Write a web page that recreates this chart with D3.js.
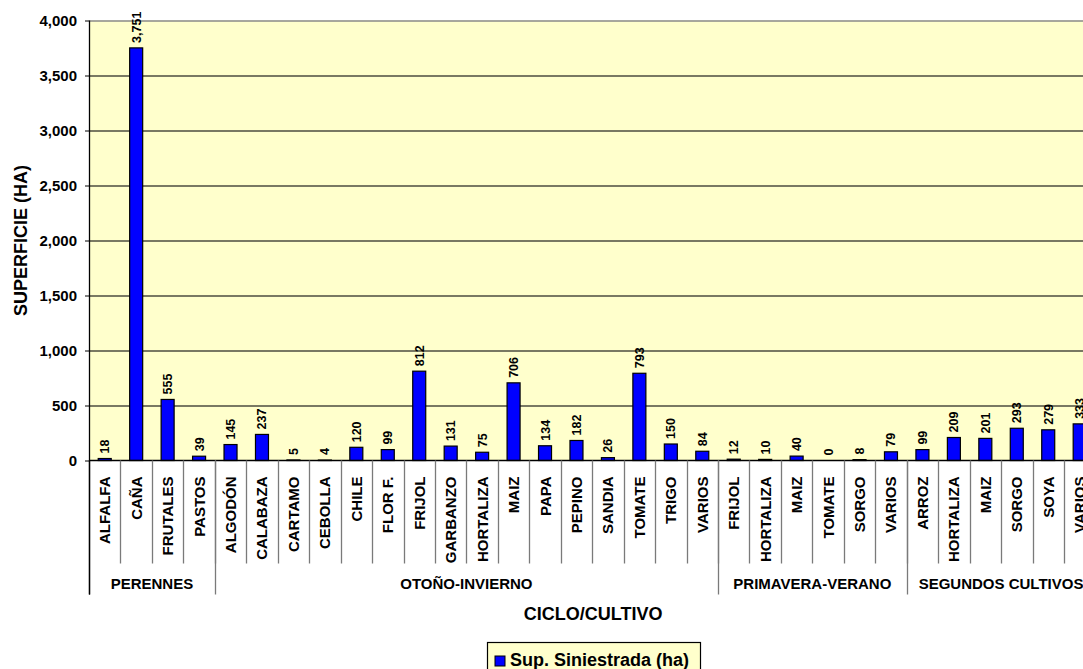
<!DOCTYPE html>
<html>
<head>
<meta charset="utf-8">
<script src="https://cdn.jsdelivr.net/npm/d3@7"></script>
<style>
  body { margin: 0; background: #fff; overflow: hidden; }
  text { font-family: Arial, "Liberation Sans", sans-serif; font-weight: bold; fill: #000; }
</style>
</head>
<body>
<script>
// Data
var groups = ["PERENNES", "OTOÑO-INVIERNO", "PRIMAVERA-VERANO", "SEGUNDOS CULTIVOS"];
var groupCrops = [
  ["ALFALFA", "CAÑA", "FRUTALES", "PASTOS"],
  ["ALGODÓN", "CALABAZA", "CARTAMO", "CEBOLLA", "CHILE", "FLOR F.", "FRIJOL", "GARBANZO",
   "HORTALIZA", "MAIZ", "PAPA", "PEPINO", "SANDIA", "TOMATE", "TRIGO", "VARIOS"],
  ["FRIJOL", "HORTALIZA", "MAIZ", "TOMATE", "SORGO", "VARIOS"],
  ["ARROZ", "HORTALIZA", "MAIZ", "SORGO", "SOYA", "VARIOS"]
];
var groupValues = [
  [18, 3751, 555, 39],
  [145, 237, 5, 4, 120, 99, 812, 131, 75, 706, 134, 182, 26, 793, 150, 84],
  [12, 10, 40, 0, 8, 79],
  [99, 209, 201, 293, 279, 333]
];
var yTicks = [0, 500, 1000, 1500, 2000, 2500, 3000, 3500, 4000];
var seriesName = "Sup. Siniestrada (ha)";

// flatten into rows
var rows = [];
groups.forEach(function(g, gi) {
  groupCrops[gi].forEach(function(c, ci) {
    rows.push({ key: gi + "-" + ci, group: g, crop: c, value: groupValues[gi][ci] });
  });
});

var svgWidth = 1083, svgHeight = 669;
var margin = { top: 20.5, left: 89 };
var width = 1006.4, height = 440;

var svg = d3.select("body").append("svg")
  .attr("width", svgWidth)
  .attr("height", svgHeight);

var chartGroup = svg.append("g")
  .attr("transform", `translate(${margin.left}, ${margin.top})`);

var xScale = d3.scaleBand()
  .domain(rows.map(function(d) { return d.key; }))
  .range([0, width])
  .paddingInner(0).paddingOuter(0);

var yScale = d3.scaleLinear().domain([0, 4000]).range([height, 0]);

// plot background
chartGroup.append("rect")
  .attr("x", 0).attr("y", 0)
  .attr("width", width).attr("height", height)
  .attr("fill", "#ffffcc");

// grid lines
chartGroup.selectAll(".grid")
  .data(yTicks.slice(1))
  .enter().append("line")
  .attr("x1", 0).attr("x2", width)
  .attr("y1", function(d) { return Math.round(yScale(d)) + 0.5; })
  .attr("y2", function(d) { return Math.round(yScale(d)) + 0.5; })
  .attr("stroke", function(d) { return d === 4000 ? "#8a8a8a" : "#4d4d40"; })
  .attr("stroke-width", 1.3);

// y axis
var yAxis = d3.axisLeft(yScale).tickValues(yTicks).tickSize(4).tickFormat(d3.format(","));
var yG = chartGroup.append("g").call(yAxis);
yG.select(".domain").remove();
yG.selectAll(".tick line").attr("stroke", "#000");
yG.selectAll(".tick text").attr("font-size", 15).attr("x", -12)
  .style("font-family", "Arial, 'Liberation Sans', sans-serif").style("font-weight", "bold");

// bars
var barW = 13;
chartGroup.selectAll(".bar")
  .data(rows)
  .enter().append("rect")
  .attr("class", "bar")
  .attr("x", function(d) { return xScale(d.key) + (xScale.bandwidth() - barW) / 2; })
  .attr("y", function(d) { return yScale(d.value); })
  .attr("width", barW)
  .attr("height", function(d) { return height - yScale(d.value); })
  .attr("fill", "#0000ff")
  .attr("stroke", "#000")
  .attr("stroke-width", 1.2);

// value labels
chartGroup.selectAll(".val")
  .data(rows)
  .enter().append("text")
  .attr("class", "val")
  .attr("transform", function(d) {
    return "translate(" + (xScale(d.key) + xScale.bandwidth() / 2 + 4.5) + "," + (yScale(d.value) - 5) + ") rotate(-90)";
  })
  .attr("font-size", 12.5)
  .text(function(d) { return d3.format(",")(d.value); });

// x axis line
chartGroup.append("line")
  .attr("x1", 0).attr("x2", width)
  .attr("y1", height).attr("y2", height)
  .attr("stroke", "#000").attr("stroke-width", 1.3);

// category separators
var bounds = rows.map(function(d) { return xScale(d.key); });
chartGroup.selectAll(".sep")
  .data(bounds.slice(1))
  .enter().append("line")
  .attr("x1", function(d) { return Math.round(d) + 0.5; })
  .attr("x2", function(d) { return Math.round(d) + 0.5; })
  .attr("y1", height).attr("y2", height + 103)
  .attr("stroke", "#7a7a7a").attr("stroke-width", 1.3);

// category labels
chartGroup.selectAll(".cat")
  .data(rows)
  .enter().append("text")
  .attr("class", "cat")
  .attr("transform", function(d) {
    return "translate(" + (xScale(d.key) + xScale.bandwidth() / 2 + 5.5) + "," + (height + 16) + ") rotate(-90)";
  })
  .attr("text-anchor", "end")
  .attr("font-size", 15)
  .text(function(d) { return d.crop; });

// group separators and labels
groups.forEach(function(g, gi) {
  var n = groupCrops[gi].length;
  var x0 = xScale(gi + "-0");
  var x1 = xScale(gi + "-" + (n - 1)) + xScale.bandwidth();
  chartGroup.append("line")
    .attr("x1", Math.round(x0) + 0.5).attr("x2", Math.round(x0) + 0.5)
    .attr("y1", height).attr("y2", height + 134)
    .attr("stroke", gi === 0 ? "#000" : "#7a7a7a").attr("stroke-width", 1.3);
  chartGroup.append("text")
    .attr("x", (x0 + x1) / 2)
    .attr("y", height + 128.5)
    .attr("text-anchor", "middle")
    .attr("font-size", 15)
    .text(g);
});

// left axis line
chartGroup.append("line")
  .attr("x1", 0.5).attr("x2", 0.5)
  .attr("y1", 0).attr("y2", height + 134)
  .attr("stroke", "#000").attr("stroke-width", 1.3);

// axis titles
chartGroup.append("text")
  .attr("x", width / 2 + 1)
  .attr("y", height + 159.5)
  .attr("text-anchor", "middle")
  .attr("font-size", 18)
  .text("CICLO/CULTIVO");

svg.append("text")
  .attr("transform", "translate(26.5," + (margin.top + height / 2) + ") rotate(-90)")
  .attr("text-anchor", "middle")
  .attr("font-size", 18)
  .text("SUPERFICIE (HA)");

// legend
var legend = svg.append("g").attr("transform", "translate(487.5,642.5)");
legend.append("rect")
  .attr("width", 213).attr("height", 40)
  .attr("fill", "#ffffcc").attr("stroke", "#000").attr("stroke-width", 1.2);
legend.append("rect")
  .attr("x", 7.5).attr("y", 13.5).attr("width", 10).attr("height", 10)
  .attr("fill", "#0000ff").attr("stroke", "#000");
legend.append("text")
  .attr("x", 22.5).attr("y", 23.5)
  .attr("font-size", 18)
  .text(seriesName);
</script>
</body>
</html>
